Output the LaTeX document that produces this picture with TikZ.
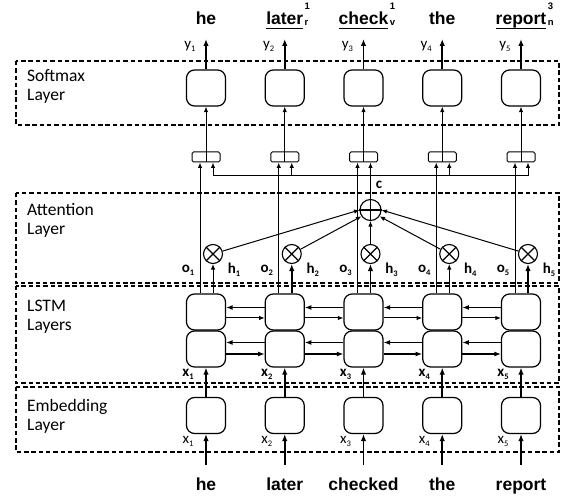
\documentclass[tikz,border=0pt]{standalone}
\usepackage{fontspec}
\setmainfont{Carlito}
\newfontfamily\wordfont{Liberation Sans}
\usetikzlibrary{arrows.meta}
\newcommand\lsub[1]{\raisebox{-3pt}{\fontsize{8.5}{8.5}\selectfont #1}}
\newcommand\sscr[2]{\rlap{\kern1.5pt\raisebox{15pt}{\fontsize{9.5}{9.5}\selectfont #1}}\rlap{\kern1.5pt\raisebox{-0.5pt}{\fontsize{9.5}{9.5}\selectfont #2}}}
\newsavebox\ulbox
\newcommand\ulw[1]{\sbox\ulbox{#1}\rlap{\rule[-4.5pt]{\wd\ulbox}{1.4pt}}\usebox\ulbox}
\begin{document}
\begin{tikzpicture}[x=1pt,y=-1pt,
  layerbox/.style={draw, dash pattern=on 4.5pt off 2.8pt, line width=1.1pt},
  cell/.style={draw, rounded corners=8pt, minimum width=39pt, minimum height=36pt, line width=1.2pt, inner sep=0pt},
  cat/.style={draw, rounded corners=1.5pt, minimum width=28pt, minimum height=10pt, line width=1pt, inner sep=0pt},
  op/.style={draw, circle, minimum size=19pt, line width=1.1pt, inner sep=0pt},
  arr/.style={line width=1pt, -{Latex[length=5.5pt,width=4.5pt]}},
  marr/.style={line width=1.4pt, -{Latex[length=6.5pt,width=5pt]}},
  tarr/.style={line width=1.8pt, -{Latex[length=7pt,width=5.5pt]}},
  lbl/.style={font=\fontsize{15}{15}\selectfont, inner sep=0pt},
  layerlbl/.style={font=\fontsize{17.5}{17.5}\selectfont, anchor=base west, inner sep=0pt},
  word/.style={font=\wordfont\bfseries\fontsize{17.5}{17.5}\selectfont, anchor=base, inner sep=0pt}
]
\useasboundingbox (0,0) rectangle (563,497);
% layer boxes
\draw[layerbox] (16,61) rectangle (559,125);
\draw[layerbox] (16,193) rectangle (559,283);
\draw[layerbox] (16,286) rectangle (559,383);
\draw[layerbox] (16,387) rectangle (559,452);
\node[layerlbl] (L1a) at (27,82) {Softmax};
\node[layerlbl] (L1b) at (27,101) {Layer};
\node[layerlbl] (L2a) at (27,216) {Attention};
\node[layerlbl] (L2b) at (27,235) {Layer};
\node[layerlbl] (L3a) at (27,312) {LSTM};
\node[layerlbl] (L3b) at (27,331) {Layers};
\node[layerlbl] (L4a) at (27,412) {Embedding};
\node[layerlbl] (L4b) at (27,431) {Layer};
% columns
\foreach \i in {1,...,5} {
  \pgfmathsetmacro\X{206+78.75*(\i-1)}
  \node[cell] (s\i) at (\X,88) {};
  \node[cat] (k\i) at (\X,157) {};
  \draw[line width=1pt] (k\i.north) -- (k\i.south);
  \node[op] (m\i) at (\X+7,254) {};
  \draw[line width=1.1pt] (m\i.north west) -- (m\i.south east) (m\i.north east) -- (m\i.south west);
  \node[cell] (u\i) at (\X,312) {};
  \node[cell] (l\i) at (\X,349) {};
  \node[cell] (e\i) at (\X,415.5) {};
  \coordinate (top\i) at (\X,39);
  \coordinate (in\i) at (\X,465);
  \coordinate (c\i) at (\X+7,176);
  \draw[tarr] (s\i.north) -- (top\i);
  \draw[arr] (k\i.north) -- (s\i.south);
  \draw[tarr] (in\i) -- (e\i.south);
  \draw[tarr] (e\i.north) -- (l\i.south);
  \draw[arr] ([xshift=-6pt]u\i.north) -- ([xshift=-6pt]k\i.south);
  \draw[arr] (c\i) -- ([xshift=7pt]k\i.south);
  \node[lbl] (ylab\i) at (\X-16,46) {y\lsub{\i}};
  \node[lbl] (xb\i) at (\X-18,374) {\textbf{x\lsub{\i}}};
  \node[lbl] (xr\i) at (\X-18,441) {x\lsub{\i}};
  \node[lbl] (o\i) at (\X-18,270) {\textbf{o\lsub{\i}}};
  \node[lbl] (h\i) at (\X+28,270) {\textbf{h\lsub{\i}}};
}
% h lines into the multipliers
\draw[arr] ([xshift=7pt]u1.north) -- (m1.south);
\draw[tarr] ([xshift=7pt]u2.north) -- (m2.south);
\draw[tarr] ([xshift=7pt]u3.north) -- (m3.south);
\draw[arr] ([xshift=7pt]u4.north) -- (m4.south);
\draw[tarr] ([xshift=7pt]u5.north) -- (m5.south);
% LSTM recurrent arrows
\foreach \i/\j in {1/2,2/3,3/4,4/5} {
  \draw[marr] ([yshift=4.5pt]u\j.west) -- ([yshift=4.5pt]u\i.east);
  \draw[arr] ([yshift=-6pt]u\i.east) -- ([yshift=-6pt]u\j.west);
  \draw[marr] ([yshift=6.5pt]l\j.west) -- ([yshift=6.5pt]l\i.east);
  \draw[marr] ([yshift=-5pt]l\i.east) -- ([yshift=-5pt]l\j.west);
}
% attention sum
\node[op, minimum size=21pt] (p) at (370.5,210) {};
\draw[line width=1.1pt] (p.north) -- (p.south) (p.west) -- (p.east);
\draw[line width=1pt] (c1) -- (c5);
\draw[line width=1pt] (p.north) -- (c3);
\node[lbl] (clab) at (379,185) {\textbf{c}};
\draw[arr] (m1) -- (p.180);
\draw[arr] (m2) -- (p.215);
\draw[arr] (m3) -- (p.south);
\draw[arr] (m4) -- (p.-35);
\draw[arr] (m5) -- (p.0);
% words
\node[word] (t1) at (206,25) {he};
\node[word] (t2) at (284.75,25) {\ulw{later}\sscr{1}{r}};
\node[word] (t3) at (363.5,25) {\ulw{check}\sscr{1}{v}};
\node[word] (t4) at (442.25,25) {the};
\node[word] (t5) at (521,25) {\ulw{report}\sscr{3}{n}};
\node[word] (b1) at (206,490) {he};
\node[word] (b2) at (284.75,490) {later};
\node[word] (b3) at (363.5,490) {checked};
\node[word] (b4) at (442.25,490) {the};
\node[word] (b5) at (521,490) {report};
\end{tikzpicture}
\end{document}
